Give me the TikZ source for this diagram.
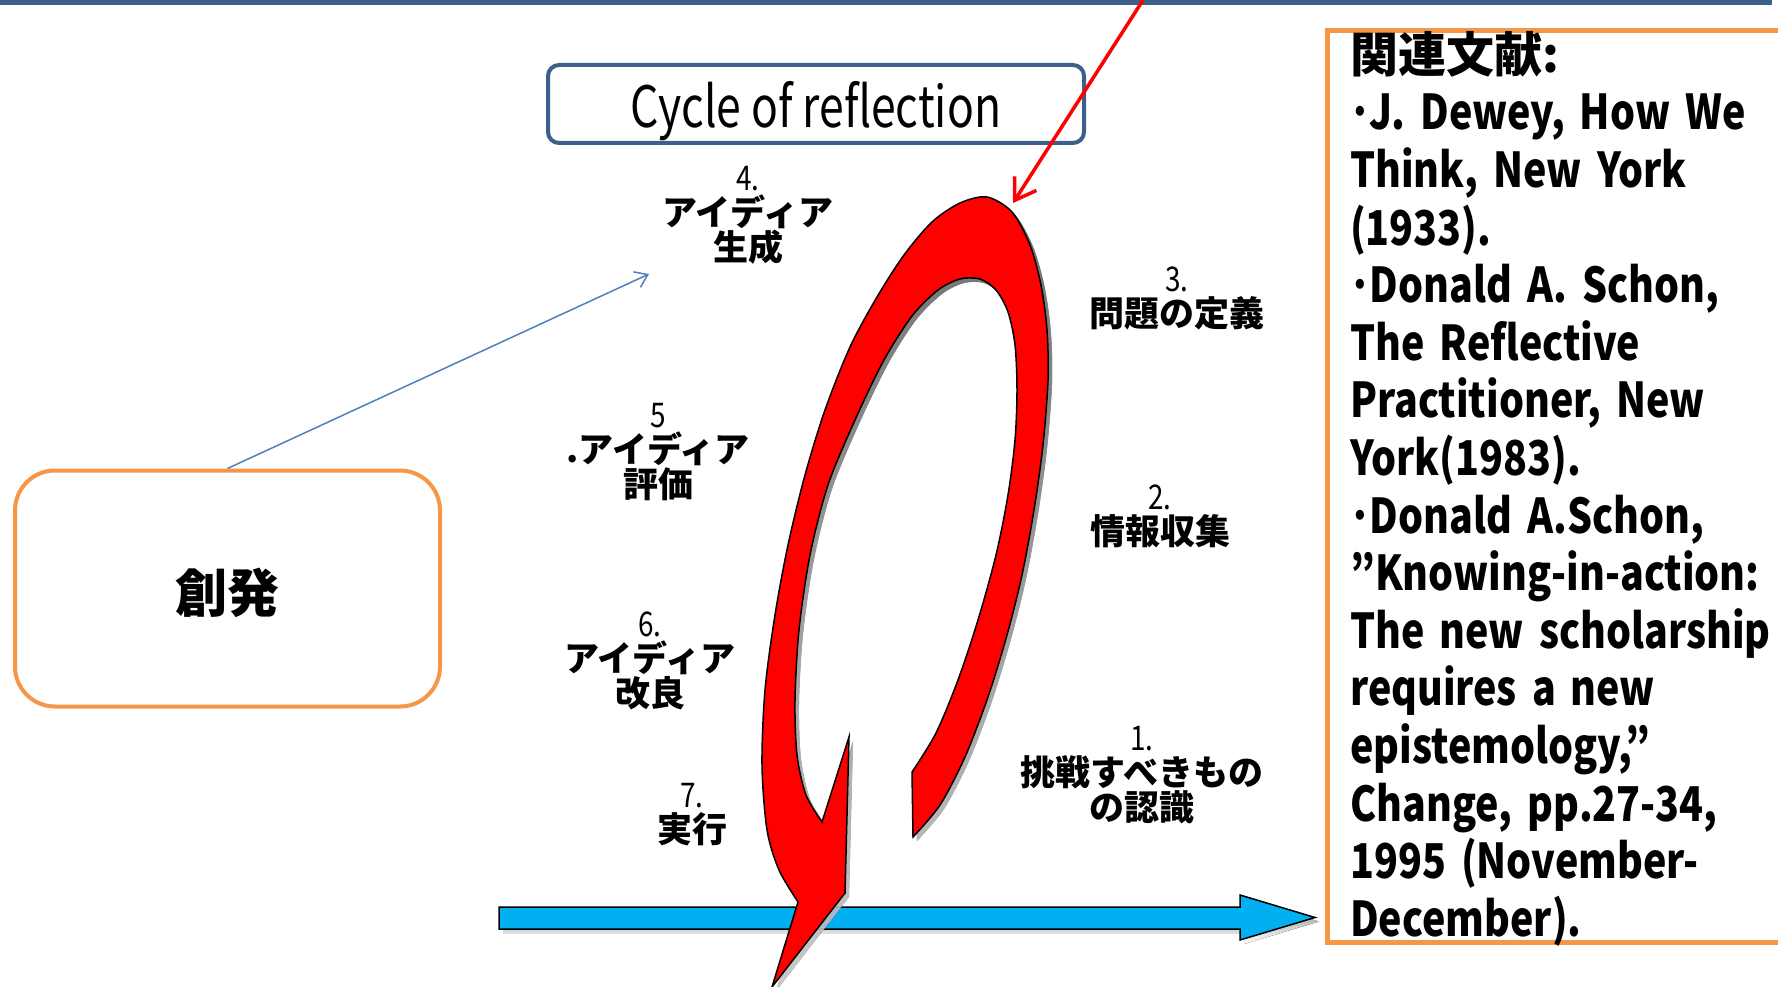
\documentclass[tikz,border=0pt]{standalone}
\usepackage{fontspec}
\usetikzlibrary{arrows.meta}
\newfontfamily\jpfont{Noto Sans CJK JP}
\newfontfamily\jpnarrow{Noto Sans CJK JP}[FakeStretch=0.82]
\newfontfamily\titlefont{Noto Sans CJK JP}[FakeStretch=0.78]
\definecolor{framebl}{RGB}{60,96,140}
\definecolor{frameor}{RGB}{247,150,70}
\definecolor{loopred}{RGB}{255,0,0}
\definecolor{timebl}{RGB}{0,176,240}
\definecolor{linkbl}{RGB}{79,129,189}
\definecolor{shade}{RGB}{222,220,208}
\newcommand\stagenum[1]{{\jpnarrow\mdseries\fontsize{34}{33}\selectfont #1}}
% outline of the red reflection loop (tail, ring, arrow head)
\def\looppath{(912,772) -- (913,837)
  -- plot[smooth] coordinates {(913,837) (940,805) (965,757) (988,697) (1007,635) (1022,575)
     (1034,510) (1043,445) (1048,380) (1047,330) (1041,285) (1030,245) (1012,212) (987,197)
     (960,203) (932,222) (904,255) (877,297) (850,347) (825,410) (805,475) (788,545)
     (775,615) (765,690) (762,765) (767,830) (779,870) (798,902)}
  -- (772,987) -- (845,893) -- (849,737) -- (822,822)
  -- plot[smooth] coordinates {(822,822) (806,795) (797,755) (795,700) (799,630) (810,555)
     (828,485) (855,420) (884,360) (912,316) (938,290) (960,279) (980,279) (996,290)
     (1008,312) (1015,345) (1017,390) (1015,440) (1008,495) (996,555) (978,620) (958,680)
     (936,733) (912,772)}
  -- cycle}
% outline of the thick time arrow
\def\timepath{(499,907) -- (1240,907) -- (1240,895) -- (1315,917.5) -- (1240,940)
  -- (1240,929) -- (499,929) -- cycle}
\begin{document}
\begin{tikzpicture}[x=1pt,y=-1pt,
  stagelbl/.style={align=center, inner sep=0pt,
    font=\jpfont\bfseries\fontsize{35}{33}\selectfont},
  bigshape/.style={draw=black, line width=1.5pt, line join=miter}]
\useasboundingbox (0,0) rectangle (1778,987);
\fill[white] (0,0) rectangle (1778,987);

% top rule
\fill[framebl] (0,0) rectangle (1772,5.5);

% time arrow
\fill[shade, shift={(4,4)}] \timepath;
\path[bigshape, fill=timebl] \timepath;

% reflection loop
\fill[shade, opacity=0.7, shift={(4,4)}] \looppath;
\path[bigshape, fill=loopred] \looppath;

% title box
\node[draw=framebl, line width=4pt, rounded corners=11pt, minimum width=536pt,
  minimum height=78pt, inner sep=0pt, font=\titlefont\fontsize{57}{60}\selectfont]
  (cycle) at (816,104) {\smash{\raisebox{-24pt}{Cycle of reflection}}};

% emergence box
\node[draw=frameor, line width=4pt, rounded corners=40pt, minimum width=425pt,
  minimum height=236pt, font=\jpfont\bfseries\fontsize{52}{60}\selectfont]
  (sohatsu) at (227.5,588.5) {\smash{\raisebox{-24pt}{創発}}};

% stage labels
\node[stagelbl] (st4) at (748,215) {\stagenum{4.}\\[2pt]アイディア\\生成};
\node[stagelbl] (st3) at (1177,298) {\stagenum{3.}\\[2pt]問題の定義};
\node[stagelbl] (st2) at (1160,516) {\stagenum{2.}\\[2pt]情報収集};
\node[stagelbl] (st1) at (1142,775) {\stagenum{1.}\\[2pt]挑戦すべきもの\\の認識};
\node[stagelbl] (st5) at (658,452) {\stagenum{5}\\[2pt].アイディア\\評価};
\node[stagelbl] (st6) at (650,661) {\stagenum{6.}\\[2pt]アイディア\\改良};
\node[stagelbl] (st7) at (692,815) {\stagenum{7.}\\[2pt]実行};

% connectors
\coordinate (ideaend) at (649,274);
\coordinate (redstart) at (1145,-3);
\coordinate (looptop) at (1013,203);
\draw[linkbl, line width=1.5pt, -{Straight Barb[length=12pt,width=17pt]}]
  (sohatsu.north) -- (ideaend);
\draw[loopred, line width=3.5pt, -{Straight Barb[length=20pt,width=26pt]}]
  (redstart) -- (looptop);

% reference box
\node[draw=frameor, line width=5pt, anchor=north west, minimum width=480pt,
  minimum height=912pt, inner sep=0pt] (refbox) at (1325,28) {};
\node[anchor=base west, inner sep=0pt] (refs) at (1350,72.4) {\parbox[t]{440pt}{%
  \raggedright\jpnarrow\bfseries\fontsize{48}{57.6}\selectfont\spaceskip=15pt
  {\jpfont 関連文献:}\\
  ･J. Dewey, How We\\
  Think, New York\\
  (1933).\\
  ･Donald A. Schon,\\
  The Reflective\\
  Practitioner, New\\
  York(1983).\\
  ･Donald A.Schon,\\
  ”Knowing-in-action:\\
  The new scholarship\\
  requires a new\\
  epistemology,”\\
  Change, pp.27-34,\\
  1995 (November-\\
  December).}};
\end{tikzpicture}
\end{document}
